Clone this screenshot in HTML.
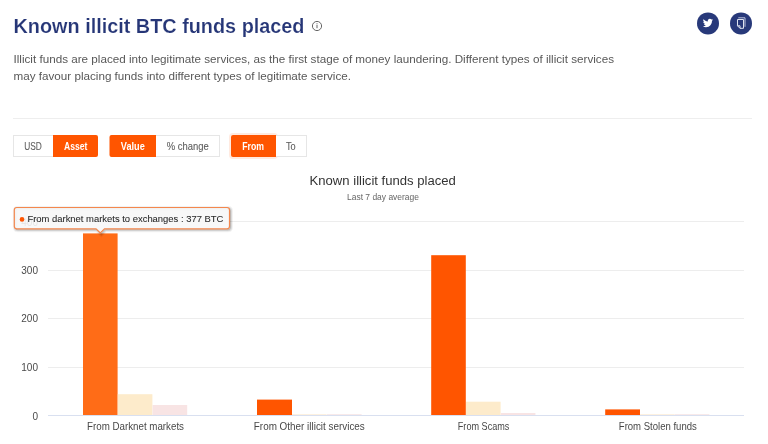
<!DOCTYPE html>
<html><head><meta charset="utf-8">
<style>
html,body{margin:0;padding:0;}
body{width:768px;height:444px;overflow:hidden;background:#fff;}
svg{display:block;will-change:transform;font-family:"Liberation Sans",sans-serif;}
</style></head><body>
<svg width="768" height="444" viewBox="0 0 768 444">
  <!-- header -->
  <text id="t_title" x="13.5" y="32.8" font-size="21" font-weight="bold" fill="#263677" stroke="#fff" stroke-width="0.15" textLength="291" lengthAdjust="spacingAndGlyphs">Known illicit BTC funds placed</text>
  <circle cx="317" cy="26" r="4.6" fill="none" stroke="#666" stroke-width="1"/>
  <rect x="316.5" y="25" width="1" height="3.2" fill="#666"/>
  <rect x="316.5" y="23.3" width="1" height="1" fill="#666"/>

  <circle cx="708" cy="23.4" r="11" fill="#28397a"/>
  <circle cx="741" cy="23.4" r="11" fill="#28397a"/>
  <path transform="translate(702.8 17.9) scale(0.425)" fill="#fff" d="M23.953 4.57a10 10 0 01-2.825.775 4.958 4.958 0 002.163-2.723c-.951.555-2.005.959-3.127 1.184a4.92 4.92 0 00-8.384 4.482C7.690 8.095 4.067 6.130 1.640 3.162a4.822 4.822 0 00-.666 2.475c0 1.710.870 3.213 2.188 4.096a4.904 4.904 0 01-2.228-.616v.06a4.923 4.923 0 003.946 4.827 4.996 4.996 0 01-2.212.085 4.936 4.936 0 004.604 3.417 9.867 9.867 0 01-6.102 2.105c-.39 0-.779-.023-1.17-.067a13.995 13.995 0 007.557 2.209c9.053 0 13.998-7.496 13.998-13.985 0-.21 0-.42-.015-.63A9.935 9.935 0 0024 4.59z"/>
  <path d="M738.3 17.8 H745 V26.8" fill="none" stroke="#b9c0da" stroke-width="1"/>
  <path d="M737.5 19.5 H743.5 V28.3 H740 L737.5 25.8 Z M737.5 25.8 H740 V28.3" fill="none" stroke="#dfe3ef" stroke-width="1"/>

  <text id="t_d1" x="13.5" y="63.2" font-size="11.7" fill="#585858" textLength="600.5" lengthAdjust="spacingAndGlyphs">Illicit funds are placed into legitimate services, as the first stage of money laundering. Different types of illicit services</text>
  <text id="t_d2" x="13.5" y="80" font-size="11.7" fill="#585858" textLength="337.5" lengthAdjust="spacingAndGlyphs">may favour placing funds into different types of legitimate service.</text>
  <rect x="13" y="118" width="739" height="1" fill="#eeeeee"/>

  <!-- buttons -->
  <g font-size="10">
    <rect x="13.5" y="135.5" width="40" height="21" fill="#fff" stroke="#e6e6e6"/>
    <text x="24.2" y="149.5" fill="#5e5e5e" stroke="#5e5e5e" stroke-width="0.1" textLength="17.6" lengthAdjust="spacingAndGlyphs">USD</text>
    <path d="M53 135 H96 Q98 135 98 137 V155 Q98 157 96 157 H53 Z" fill="#ff5500"/>
    <text x="64" y="149.6" fill="#fff" font-weight="bold" textLength="23.5" lengthAdjust="spacingAndGlyphs">Asset</text>

    <path d="M111.5 135 H156 V157 H111.5 Q109.5 157 109.5 155 V137 Q109.5 135 111.5 135 Z" fill="#ff5500"/>
    <text x="120.8" y="149.6" fill="#fff" font-weight="bold" textLength="24" lengthAdjust="spacingAndGlyphs">Value</text>
    <rect x="155.5" y="135.5" width="64" height="21" fill="#fff" stroke="#e6e6e6"/>
    <rect x="155" y="135" width="1" height="22" fill="#ff5500"/>
    <text x="166.7" y="149.6" fill="#5e5e5e" stroke="#5e5e5e" stroke-width="0.1" textLength="42" lengthAdjust="spacingAndGlyphs">% change</text>

    <rect x="230" y="134" width="47" height="24" rx="3" fill="none" stroke="#ff5500" stroke-opacity="0.12" stroke-width="2"/>
    <path d="M233 135 H276 V157 H233 Q231 157 231 155 V137 Q231 135 233 135 Z" fill="#ff5500"/>
    <text x="242.3" y="149.6" fill="#fff" font-weight="bold" textLength="21.7" lengthAdjust="spacingAndGlyphs">From</text>
    <rect x="275.5" y="135.5" width="31" height="21" fill="#fff" stroke="#e6e6e6"/>
    <rect x="275" y="135" width="1" height="22" fill="#ff5500"/>
    <text x="286" y="149.6" fill="#5e5e5e" stroke="#5e5e5e" stroke-width="0.1" textLength="9.7" lengthAdjust="spacingAndGlyphs">To</text>
  </g>

  <!-- chart -->
  <text x="309.6" y="184.6" font-size="12.5" fill="#333" textLength="146.2" lengthAdjust="spacingAndGlyphs">Known illicit funds placed</text>
  <text x="347" y="199.7" font-size="8.2" fill="#666" textLength="72" lengthAdjust="spacingAndGlyphs">Last 7 day average</text>

  <rect x="48" y="221" width="696" height="1" fill="#ededed"/>
  <rect x="48" y="270" width="696" height="1" fill="#ededed"/>
  <rect x="48" y="318" width="696" height="1" fill="#ededed"/>
  <rect x="48" y="367" width="696" height="1" fill="#ededed"/>
  <rect x="48" y="415" width="696" height="1" fill="#d9e0f0"/>
  <g font-size="10" fill="#4a4a4a" text-anchor="end">
    <text x="38" y="226">400</text>
    <text x="38" y="274">300</text>
    <text x="38" y="322">200</text>
    <text x="38" y="370.9">100</text>
    <text x="38" y="419.5">0</text>
  </g>

  <!-- bars -->
  <g>
    <rect x="83" y="233.4" width="34.6" height="181.6" fill="#ff6c17"/>
    <rect x="117.8" y="394.2" width="34.6" height="20.8" fill="#fdebcb"/>
    <rect x="152.6" y="405" width="34.6" height="10" fill="#f8e4e4"/>

    <rect x="257" y="399.6" width="35" height="15.4" fill="#ff5500"/>
    <rect x="292" y="414" width="34.6" height="1" fill="#fdf1e0"/>
    <rect x="327" y="414" width="34.6" height="1" fill="#f8eaea"/>

    <rect x="431.2" y="255.2" width="34.6" height="159.8" fill="#ff5500"/>
    <rect x="466" y="401.7" width="34.6" height="13.3" fill="#fdebcb"/>
    <rect x="500.8" y="413" width="34.6" height="2" fill="#f8e4e4"/>

    <rect x="605.2" y="409.4" width="34.8" height="5.6" fill="#ff5500"/>
    <rect x="640" y="414" width="34.6" height="1" fill="#fdf1e0"/>
    <rect x="674.8" y="414" width="34.6" height="1" fill="#f8eaea"/>
  </g>

  <g font-size="10.3" fill="#484848">
    <text x="87" y="429.8" textLength="97" lengthAdjust="spacingAndGlyphs">From Darknet markets</text>
    <text x="253.8" y="429.8" textLength="111" lengthAdjust="spacingAndGlyphs">From Other illicit services</text>
    <text x="457.8" y="429.8" textLength="51.6" lengthAdjust="spacingAndGlyphs">From Scams</text>
    <text x="618.8" y="429.8" textLength="78" lengthAdjust="spacingAndGlyphs">From Stolen funds</text>
  </g>

  <!-- tooltip -->
  <g transform="translate(1 1)" fill="none" stroke="#000">
    <path stroke-opacity="0.05" stroke-width="5" d="M16.8 207.5 H227 Q229.5 207.5 229.5 210 V226.3 Q229.5 228.8 227 228.8 H104.5 L100.3 233 L96 228.8 H16.8 Q14.3 228.8 14.3 226.3 V210 Q14.3 207.5 16.8 207.5 Z"/>
    <path stroke-opacity="0.1" stroke-width="3" d="M16.8 207.5 H227 Q229.5 207.5 229.5 210 V226.3 Q229.5 228.8 227 228.8 H104.5 L100.3 233 L96 228.8 H16.8 Q14.3 228.8 14.3 226.3 V210 Q14.3 207.5 16.8 207.5 Z"/>
    <path stroke-opacity="0.15" stroke-width="1" d="M16.8 207.5 H227 Q229.5 207.5 229.5 210 V226.3 Q229.5 228.8 227 228.8 H104.5 L100.3 233 L96 228.8 H16.8 Q14.3 228.8 14.3 226.3 V210 Q14.3 207.5 16.8 207.5 Z"/>
  </g>
  <path d="M16.8 207.5 H227 Q229.5 207.5 229.5 210 V226.3 Q229.5 228.8 227 228.8 H104.5 L100.3 233 L96 228.8 H16.8 Q14.3 228.8 14.3 226.3 V210 Q14.3 207.5 16.8 207.5 Z" fill="rgba(247,247,247,0.9)" stroke="#f4874d" stroke-width="1.2"/>
  <circle cx="22" cy="219.4" r="2.3" fill="#ff5500"/>
  <text x="27.4" y="221.8" font-size="9.5" fill="#2a2a2a" stroke="#2a2a2a" stroke-width="0.08" textLength="196" lengthAdjust="spacingAndGlyphs">From darknet markets to exchanges : 377 BTC</text>
</svg>
</body></html>
